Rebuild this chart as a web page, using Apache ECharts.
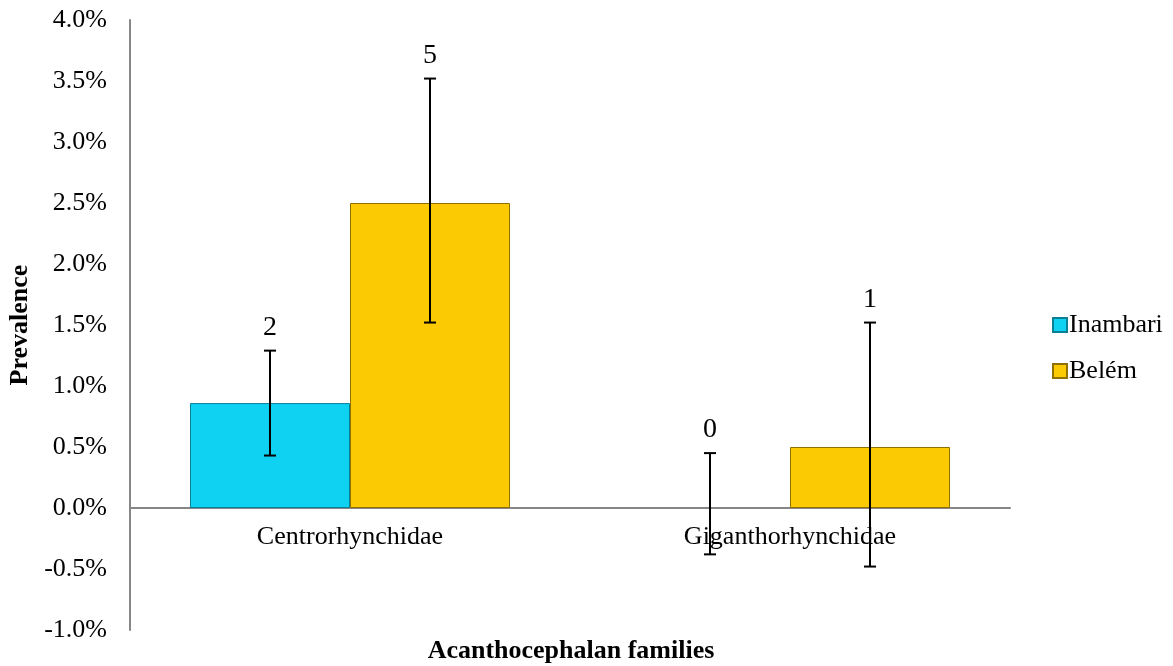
<!DOCTYPE html>
<html>
<head>
<meta charset="utf-8">
<script src="https://cdn.jsdelivr.net/npm/echarts@6/dist/echarts.min.js"></script>
<style>
  html, body { margin: 0; padding: 0; background: #fff; }
  #main { width: 1173px; height: 666px; }
</style>
</head>
<body>
<div id="main"></div>
<script>
// data (prevalence in %)
var families = ['Centrorhynchidae', 'Giganthorhynchidae']
var inambari = [0.86, 0]
var belem = [2.5, 0.5]
// error bar ends
var inambariLow = [0.43, -0.38]
var inambariHigh = [1.29, 0.45]
var belemLow = [1.52, -0.48]
var belemHigh = [3.52, 1.52]
// counts written above the bars
var inambariN = ['2', '0']
var belemN = ['5', '1']

var serif = '"Liberation Serif", "DejaVu Serif", serif'
var catGap = 0.2727

// zero-height bars get no border so they don't show on the axis
function barData(vals) {
  return vals.map(function (v) {
    return v === 0 ? { value: v, itemStyle: { borderWidth: 0 } } : v
  })
}

// error bar + count label, shifted to the left or right bar of the group
function errorSeries(name, low, high, counts, side) {
  var data = families.map(function (f, i) { return [i, low[i], high[i], counts[i]] })
  return {
    type: 'custom',
    name: name + ' err',
    z: 10,
    silent: true,
    data: data,
    encode: { x: 0, y: [1, 2] },
    renderItem: function (params, api) {
      var band = api.size([1, 0])[0]
      var shift = side * band * (1 - catGap) / 4
      var lo = api.coord([api.value(0), api.value(1)])
      var hi = api.coord([api.value(0), api.value(2)])
      var x = lo[0] + shift
      var cap = 6
      var st = { stroke: '#000', lineWidth: 2 }
      return {
        type: 'group',
        children: [
          { type: 'line', shape: { x1: x, y1: lo[1], x2: x, y2: hi[1] }, style: st },
          { type: 'line', shape: { x1: x - cap, y1: lo[1], x2: x + cap, y2: lo[1] }, style: st },
          { type: 'line', shape: { x1: x - cap, y1: hi[1], x2: x + cap, y2: hi[1] }, style: st },
          {
            type: 'text',
            style: {
              x: x, y: hi[1] - 23, text: api.value(3),
              font: '28px ' + serif, fill: '#000',
              align: 'center', verticalAlign: 'middle'
            }
          }
        ]
      }
    }
  }
}

var chart = echarts.init(document.getElementById('main'))
var option = {
  animation: false,
  backgroundColor: '#fff',
  grid: { left: 130, top: 20, right: 163, bottom: 36, outerBoundsMode: 'none' },
  legend: {
    orient: 'vertical',
    left: 1047,
    top: 307,
    itemWidth: 14,
    itemHeight: 14,
    itemGap: 20,
    icon: 'rect',
    data: ['Inambari', 'Belém'],
    textStyle: { fontFamily: serif, fontSize: 26, color: '#000', padding: [0, 0, 0, -3] }
  },
  xAxis: {
    type: 'category',
    data: families,
    offset: -122, // sits on the 0.0% line, labels included
    axisLine: { onZero: false, lineStyle: { color: '#868686', width: 2 } },
    axisTick: { show: false },
    axisLabel: { fontFamily: serif, fontSize: 26, color: '#000', margin: 16 }
  },
  yAxis: {
    type: 'value',
    min: -1,
    max: 4,
    interval: 0.5,
    name: 'Prevalence',
    nameLocation: 'middle',
    nameGap: 95,
    nameTextStyle: { fontFamily: serif, fontSize: 26, fontWeight: 'bold', color: '#000' },
    axisLine: { show: true, lineStyle: { color: '#868686', width: 2 } },
    axisTick: { show: false },
    splitLine: { show: false },
    axisLabel: {
      fontFamily: serif, fontSize: 26, color: '#000', margin: 23,
      formatter: function (v) { return v.toFixed(1) + '%' }
    }
  },
  graphic: [{
    type: 'text',
    x: 571,
    y: 651,
    style: {
      text: 'Acanthocephalan families',
      font: 'bold 26px ' + serif,
      fill: '#000',
      align: 'center',
      verticalAlign: 'middle'
    }
  }],
  series: [
    {
      name: 'Inambari',
      type: 'bar',
      data: barData(inambari),
      barGap: '0%',
      barCategoryGap: (catGap * 100) + '%',
      itemStyle: { color: '#0fd2f3', borderColor: '#0a7f98', borderWidth: 1 }
    },
    {
      name: 'Belém',
      type: 'bar',
      data: barData(belem),
      barGap: '0%',
      barCategoryGap: (catGap * 100) + '%',
      itemStyle: { color: '#fcca03', borderColor: '#8f7000', borderWidth: 1 }
    },
    errorSeries('Inambari', inambariLow, inambariHigh, inambariN, -1),
    errorSeries('Belém', belemLow, belemHigh, belemN, 1)
  ]
}
chart.setOption(option)
</script>
</body>
</html>
